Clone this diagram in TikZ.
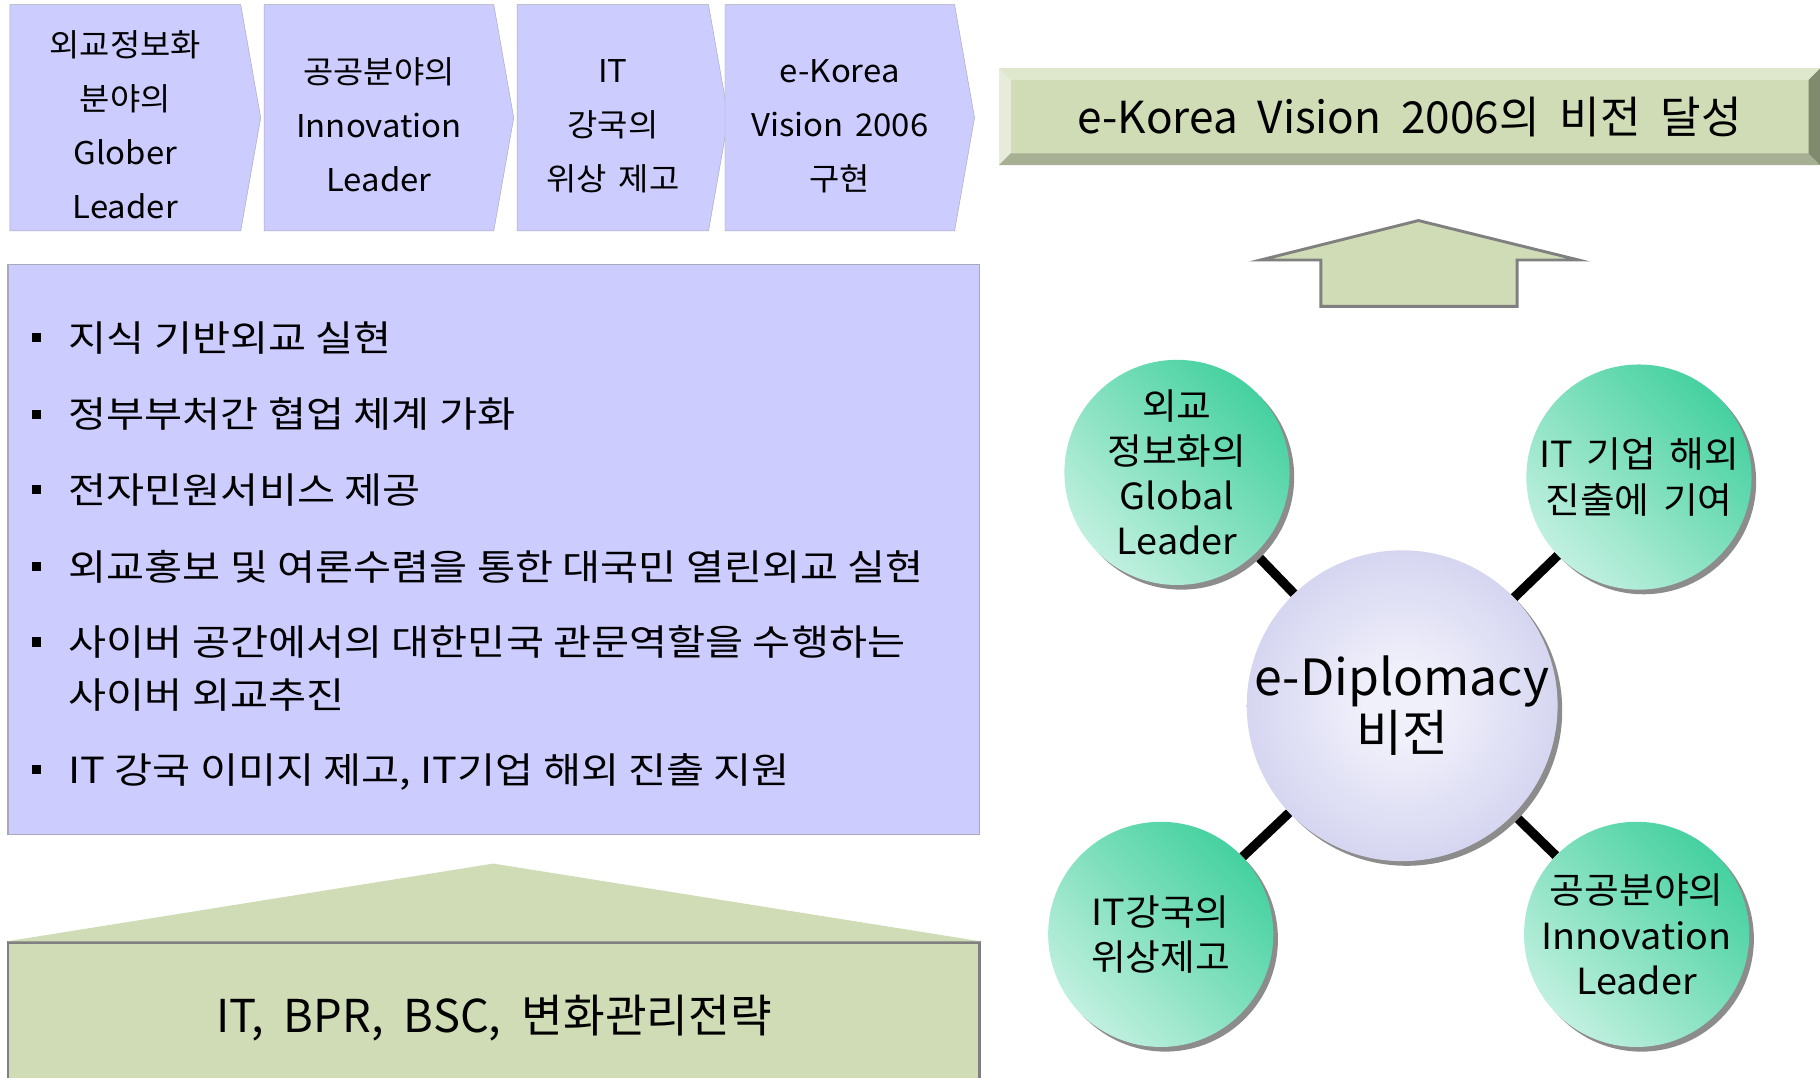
\documentclass[tikz,border=0pt]{standalone}
\usepackage{fontspec}
\setmainfont{Noto Sans CJK KR}
\newfontfamily\wordface[WordSpace=2]{Noto Sans CJK KR}
\newfontfamily\chevface[FakeStretch=1.05,WordSpace=1.5]{Noto Sans CJK KR}
\newfontfamily\bubbleface[FakeStretch=1.05,WordSpace=1.6]{Noto Sans CJK KR}
\newfontfamily\listface[FakeStretch=1.15]{Noto Sans CJK KR}
\usetikzlibrary{shapes.symbols,shadows,calc,backgrounds}
\definecolor{lavfill}{HTML}{CCCCFF}
\definecolor{lavline}{HTML}{A8A8BA}
\definecolor{sage}{HTML}{D0DCB6}
\definecolor{sagelight}{HTML}{DFE7CD}
\definecolor{sagepale}{HTML}{E6ECD9}
\definecolor{sagedark}{HTML}{A7B093}
\definecolor{sagedeep}{HTML}{7F8A6E}
\definecolor{lavin}{HTML}{F0F0FB}
\definecolor{lavout}{HTML}{BBBBE7}
\definecolor{mint}{HTML}{C8F2E3}
\definecolor{jade}{HTML}{3ECF9C}
\pgfdeclareradialshading{visionshade}{\pgfpoint{0bp}{0bp}}{color(0bp)=(lavin); color(6bp)=(lavin); color(44bp)=(lavout); color(50bp)=(lavout)}
\pgfdeclareverticalshading{bubbleshade}{100bp}{color(0bp)=(mint); color(22bp)=(mint); color(78bp)=(jade); color(100bp)=(jade)}
\tikzstyle{chevron} = [draw=lavline, fill=lavfill, signal, signal to=east, signal pointer angle=160, minimum height=195pt, inner sep=0pt, align=center, font=\fontsize{27}{46.5}\chevface]
\tikzstyle{panel} = [draw=lavline, fill=lavfill, rectangle, line width=1.2pt]
\tikzstyle{item} = [anchor=west, inner sep=0pt, align=left, font=\fontsize{31}{46}\listface]
\tikzstyle{bubble} = [circle, minimum size=194pt, inner sep=0pt, align=center, shading=bubbleshade, shading angle=-45, drop shadow={shadow xshift=4pt, shadow yshift=-4pt, fill=black!45, opacity=1}, font=\fontsize{31}{39}\bubbleface]
\tikzstyle{link} = [draw, line width=8pt]
\newcommand{\sqbullet}{\makebox[0pt][r]{\rule[0.25em]{8pt}{8pt}\hspace{24pt}}}
\newcommand{\chevtop}{\rule{0pt}{35pt}}
\begin{document}
\begin{tikzpicture}[x=1pt, y=-1pt]
    \useasboundingbox (0,0) rectangle (1568,928);
    % steps
    \node[chevron, minimum width=216pt] (global) at (108,101.5) {\chevtop 외교정보화\\분야의\\Glober\\Leader};
    \node[chevron, minimum width=215pt, right of=global, node distance=218.5pt] (innov) {\chevtop 공공분야의\\Innovation\\Leader};
    \node[chevron, minimum width=182pt, right of=innov, node distance=201.5pt] (itpower) {\chevtop IT\\강국의\\위상 제고};
    \node[chevron, minimum width=215pt, right of=itpower, node distance=195.5pt] (ekorea) {\chevtop e-Korea\\Vision 2006\\구현};
    % tasks
    \node[panel, minimum width=837pt, minimum height=491pt] (tasks) at (425.5,473.5) {};
    \node[item] (t1) at (59,291) {\sqbullet 지식 기반외교 실현};
    \node[item] (t2) at (59,357) {\sqbullet 정부부처간 협업 체계 가화};
    \node[item] (t3) at (59,422) {\sqbullet 전자민원서비스 제공};
    \node[item] (t4) at (59,488) {\sqbullet 외교홍보 및 여론수렴을 통한 대국민 열린외교 실현};
    \node[item] (t5) at (59,576) {\sqbullet 사이버 공간에서의 대한민국 관문역할을 수행하는\\사이버 외교추진};
    \node[item] (t6) at (59,665) {\sqbullet IT 강국 이미지 제고, IT기업 해외 진출 지원};
    % base
    \node[draw=gray, fill=sage, line width=2pt, minimum width=837pt, minimum height=130pt, font=\fontsize{39}{42}\wordface] (found) at (425.5,877) {IT, BPR, BSC, 변화관리전략};
    \coordinate (roof) at (425,744);
    \fill[sage] (found.north west) -- (roof) -- (found.north east) -- cycle;
    % goal
    \node[fill=sage, minimum width=707pt, minimum height=83pt, inner sep=0pt, font=\fontsize{38}{40}\wordface] (goal) at (1214.5,100.5) {e-Korea Vision 2006의 비전 달성};
    \fill[sagelight] (goal.north west) -- (goal.north east) -- ++(-10,10) -- ($(goal.north west)+(10,10)$) -- cycle;
    \fill[sagepale] (goal.north west) -- ++(10,10) -- ($(goal.south west)+(10,-10)$) -- (goal.south west) -- cycle;
    \fill[sagedark] (goal.south west) -- (goal.south east) -- ++(-10,-10) -- ($(goal.south west)+(10,-10)$) -- cycle;
    \fill[sagedeep] (goal.north east) -- (goal.south east) -- ++(-10,-10) -- ($(goal.north east)+(-10,10)$) -- cycle;
    \draw[gray, line width=2.5pt, fill=sage] (1222,190) -- (1360,224) -- (1307,224) -- (1307,264) -- (1138,264) -- (1138,224) -- (1086,224) -- cycle;
    % vision
    \node[circle, minimum size=266pt, inner sep=0pt, shading=visionshade, drop shadow={shadow xshift=4pt, shadow yshift=-4pt, fill=black!45, opacity=1}, align=center, font=\fontsize{43}{48}\selectfont] (vision) at (1208,608) {e-Diplomacy\\비전};
    \node[bubble] (globe) at (1014,407) {외교\\정보화의\\Global\\Leader};
    \node[bubble] (firms) at (1412,411) {IT 기업 해외\\진출에 기여};
    \node[bubble] (status) at (1000,805) {IT강국의\\위상제고};
    \node[bubble] (public) at (1410,805) {공공분야의\\Innovation\\Leader};
    \begin{pgfonlayer}{background}
        \path[link] (vision) -- (globe);
        \path[link] (vision) -- (firms);
        \path[link] (vision) -- (status);
        \path[link] (vision) -- (public);
    \end{pgfonlayer}
\end{tikzpicture}
\end{document}
